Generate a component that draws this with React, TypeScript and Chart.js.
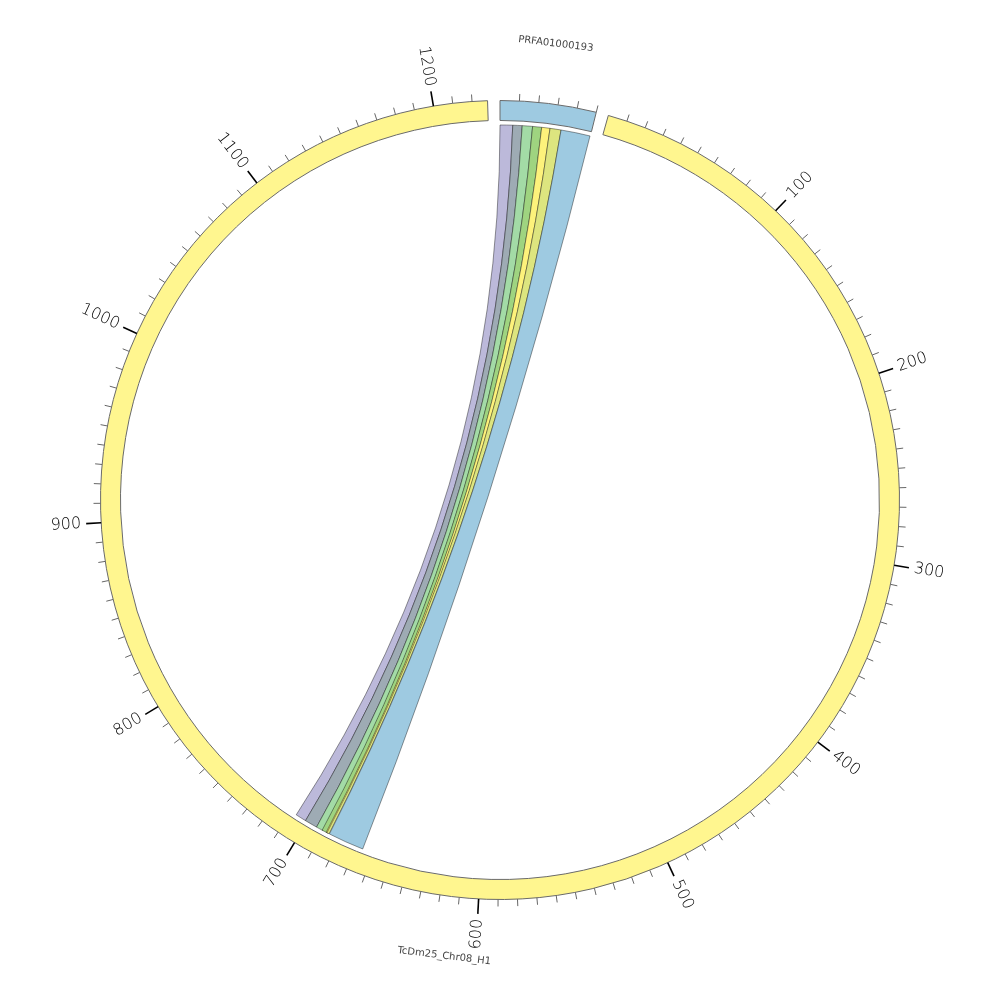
import React, { useEffect, useRef } from "react";
import { Chart, registerables } from "chart.js";

Chart.register(...registerables);

// ---- Data ----
const segmentNames = ["PRFA01000193", "TcDm25_Chr08_H1"];
const segmentLengths = [50, 1228];
const segmentColors = ["#9ecae1", "#fff68f"];
const GAP_UNITS = 6.4;

const minorTickStep = 10;
const majorTickStep = 100;
const majorTickLabels = ["100", "200", "300", "400", "500", "600", "700", "800", "900", "1000", "1100", "1200"];

const linkColors = ["#bcb9da", "#9eabb4", "#a3dba6", "#9fd480", "#fdf27b", "#dde57f", "#9ecae1"];
const linkSourceStart = [0, 7, 12.2, 17.9, 22.9, 27.5, 33.6];
const linkSourceEnd = [7, 12.2, 17.9, 22.9, 27.5, 33.6, 49.8];
const linkTargetStart = [701, 694, 690, 687.5, 686.8, 686.2, 666];
const linkTargetEnd = [707, 701, 694, 690.5, 688, 687.5, 686];

const circosPlugin = {
  id: "circos",
  afterDatasetsDraw(chart: any) {
    const ctx: CanvasRenderingContext2D = chart.ctx;
    const meta = chart.getDatasetMeta(0);
    const arcs = [meta.data[0], meta.data[2]];
    const geo = arcs.map((a: any) =>
      a.getProps(["x", "y", "startAngle", "endAngle", "outerRadius", "innerRadius"], true)
    );
    const cx = geo[0].x;
    const cy = geo[0].y;
    const outerR = geo[0].outerRadius;
    const innerR = geo[0].innerRadius;
    const angleOf = (s: number, u: number) =>
      geo[s].startAngle + (u / segmentLengths[s]) * (geo[s].endAngle - geo[s].startAngle);

    // Ribbons
    const R = innerR - 4.5;
    ctx.save();
    for (let i = 0; i < linkColors.length; i++) {
      const a1 = angleOf(0, linkSourceStart[i]);
      const a2 = angleOf(0, linkSourceEnd[i]);
      const b1 = angleOf(1, linkTargetStart[i]);
      const b2 = angleOf(1, linkTargetEnd[i]);
      ctx.beginPath();
      ctx.arc(cx, cy, R, a1, a2);
      ctx.quadraticCurveTo(cx, cy, cx + R * Math.cos(b1), cy + R * Math.sin(b1));
      ctx.arc(cx, cy, R, b1, b2);
      ctx.quadraticCurveTo(cx, cy, cx + R * Math.cos(a1), cy + R * Math.sin(a1));
      ctx.closePath();
      ctx.fillStyle = linkColors[i];
      ctx.fill();
      ctx.strokeStyle = "rgba(0,0,0,0.8)";
      ctx.lineWidth = 0.5;
      ctx.stroke();
    }
    ctx.restore();

    // Ticks and labels
    ctx.save();
    for (let s = 0; s < segmentLengths.length; s++) {
      for (let u = minorTickStep; u <= segmentLengths[s] + 0.001; u += minorTickStep) {
        const a = angleOf(s, u);
        const major = u % majorTickStep === 0;
        const len = major ? 15 : 7;
        ctx.beginPath();
        ctx.moveTo(cx + outerR * Math.cos(a), cy + outerR * Math.sin(a));
        ctx.lineTo(cx + (outerR + len) * Math.cos(a), cy + (outerR + len) * Math.sin(a));
        ctx.strokeStyle = major ? "#000" : "#666";
        ctx.lineWidth = major ? 1.6 : 1;
        ctx.stroke();
        if (major) {
          const label = majorTickLabels[u / majorTickStep - 1];
          if (!label) continue;
          const clock = a + Math.PI / 2;
          const norm = ((clock % (2 * Math.PI)) + 2 * Math.PI) % (2 * Math.PI);
          ctx.save();
          ctx.translate(cx, cy);
          ctx.font = '300 16px "DejaVu Sans"';
          ctx.fillStyle = "#000";
          ctx.textBaseline = "middle";
          if (norm <= Math.PI) {
            ctx.rotate(a);
            ctx.textAlign = "left";
            ctx.fillText(label, outerR + 20, 0);
          } else {
            ctx.rotate(a + Math.PI);
            ctx.textAlign = "right";
            ctx.fillText(label, -(outerR + 20), 0);
          }
          ctx.restore();
        }
      }
      // segment name
      const mid = (geo[s].startAngle + geo[s].endAngle) / 2;
      const clock = mid + Math.PI / 2;
      const norm = ((clock % (2 * Math.PI)) + 2 * Math.PI) % (2 * Math.PI);
      const rn = outerR + 60;
      ctx.save();
      ctx.translate(cx + rn * Math.cos(mid), cy + rn * Math.sin(mid));
      const bottom = norm > Math.PI / 2 && norm < (3 * Math.PI) / 2;
      ctx.rotate(bottom ? norm - Math.PI : norm);
      ctx.font = '10px "DejaVu Sans"';
      ctx.fillStyle = "#444";
      ctx.textAlign = "center";
      ctx.textBaseline = "middle";
      ctx.fillText(segmentNames[s], 0, 0);
      ctx.restore();
    }
    ctx.restore();
  },
};

export default function App() {
  const canvasRef = useRef<HTMLCanvasElement | null>(null);

  useEffect(() => {
    if (!canvasRef.current) return;
    const chart = new Chart(canvasRef.current, {
      type: "doughnut",
      data: {
        labels: [segmentNames[0], "", segmentNames[1], ""],
        datasets: [
          {
            data: [segmentLengths[0], GAP_UNITS, segmentLengths[1], GAP_UNITS],
            backgroundColor: [segmentColors[0], "rgba(0,0,0,0)", segmentColors[1], "rgba(0,0,0,0)"],
            borderColor: ["#6a6a6a", "rgba(0,0,0,0)", "#6a6a6a", "rgba(0,0,0,0)"],
            borderWidth: 1,
          },
        ],
      },
      options: {
        responsive: false,
        maintainAspectRatio: false,
        animation: false,
        events: [],
        cutout: "95%",
        rotation: 0,
        layout: { padding: 100 },
        plugins: {
          legend: { display: false },
          tooltip: { enabled: false },
        },
      },
      plugins: [circosPlugin],
    });
    return () => chart.destroy();
  }, []);

  return (
    <div style={{ position: "fixed", left: 0, top: 0, width: 1000, height: 1000, background: "#fff" }}>
      <canvas ref={canvasRef} width={1000} height={1000} style={{ display: "block" }} />
    </div>
  );
}
